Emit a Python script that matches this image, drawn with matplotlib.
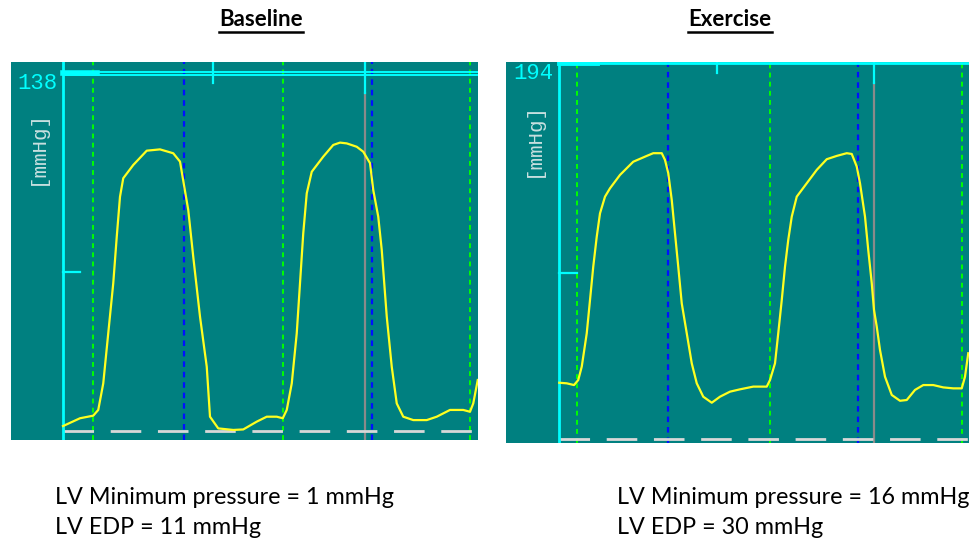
import matplotlib
matplotlib.use("Agg")
import matplotlib.pyplot as plt
from matplotlib.lines import Line2D

plt.rcParams['font.family'] = ['Lato', 'DejaVu Sans']

# ---- data (time in ms, pressure in mmHg) ----
base_t = [0, 68, 121, 141, 161, 181, 201, 215, 228, 241, 281, 335, 388, 441, 468,
          485, 501, 521, 548, 575, 588, 621, 681, 721, 775, 815, 855, 879, 895, 915,
          935, 948, 961, 975, 995, 1041, 1081, 1108, 1135, 1175, 1201, 1228, 1241,
          1261, 1275, 1295, 1315, 1335, 1361, 1401, 1455, 1495, 1548, 1601, 1628,
          1641, 1659]
base_p = [1.9, 4.9, 5.9, 8.1, 18.3, 37.6, 56.8, 74.7, 90.1, 97.2, 102.3, 107.8, 108.3,
          106.8, 103.6, 94.0, 85.0, 67.0, 44.0, 24.7, 5.5, 1.0, 0.4, 0.6, 3.6, 5.5, 5.5,
          4.9, 8.1, 18.3, 37.6, 56.8, 76.0, 91.4, 99.7, 105.5, 110.0, 110.9, 110.6,
          109.3, 107.4, 103.0, 92.7, 82.4, 69.6, 44.0, 24.7, 10.6, 5.5, 4.2, 4.2, 5.5,
          8.1, 8.1, 7.4, 10.6, 19.6]

ex_t = [1, 31, 60, 77, 91, 111, 124, 137, 151, 164, 184, 204, 244, 297, 351, 377, 411,
        424, 437, 451, 464, 477, 491, 511, 531, 551, 577, 611, 644, 684, 724, 777, 831,
        844, 864, 877, 891, 904, 917, 931, 951, 991, 1031, 1071, 1111, 1151, 1171, 1191,
        1204, 1224, 1237, 1251, 1260, 1271, 1284, 1304, 1331, 1364, 1391, 1424, 1457,
        1497, 1537, 1577, 1611, 1624, 1637]
ex_p = [29.0, 28.7, 27.8, 30.4, 37.3, 54.5, 71.6, 88.8, 104.3, 116.3, 124.9, 129.2,
        136.1, 142.9, 145.9, 147.3, 147.3, 143.8, 137.0, 123.2, 106.0, 88.8, 69.9, 54.5,
        39.0, 28.7, 21.8, 18.7, 21.8, 24.4, 25.6, 27.0, 27.0, 30.4, 39.0, 54.5, 71.6,
        88.8, 102.6, 114.6, 124.9, 131.8, 138.7, 144.2, 145.9, 147.3, 146.9, 140.4,
        131.8, 114.6, 97.4, 80.3, 66.5, 57.9, 45.9, 32.1, 22.7, 19.7, 20.1, 25.3, 27.8,
        27.8, 26.6, 26.1, 26.1, 32.1, 44.2]

base_green = [120, 880, 1628]
base_blue = [484, 1236]
ex_green = [72, 844, 1612]
ex_blue = [436, 1196]

titles = ["Baseline", "Exercise"]
scale_max = ["138", "194"]
notes = [["LV Minimum pressure = 1 mmHg", "LV EDP = 11 mmHg"],
         ["LV Minimum pressure = 16 mmHg", "LV EDP = 30 mmHg"]]

W, H = 969, 543
fig = plt.figure(figsize=(W / 100, H / 100), dpi=100)
fig.patch.set_facecolor("white")

TEAL = "#008080"
CYAN = "#00ffff"


def px_rect(x0, y0, x1, y1):
    return [x0 / W, 1 - y1 / H, (x1 - x0) / W, (y1 - y0) / H]


def monitor(ax, t, p, green, blue, gray_t, gray_top, ymax_lbl, xlim, ylim,
            lbl_xy, unit_xy, mid_tick, top_ticks, top_lines):
    ax.set_facecolor(TEAL)
    ax.set_xlim(*xlim)
    ax.set_ylim(*ylim)
    ax.set_xticks([])
    ax.set_yticks([])
    for s in ax.spines.values():
        s.set_visible(False)
    for g in green:
        ax.axvline(g, color="#00ff00", lw=1.4, ls=(0, (2.5, 2.2)), zorder=2)
    for b in blue:
        ax.axvline(b, color="#0010ff", lw=1.6, ls=(0, (2.5, 2.2)), zorder=2)
    ax.plot([gray_t, gray_t], [ylim[0], gray_top], color="#8a8a8a", lw=1.6, zorder=2)
    # zero line
    ax.plot([0, xlim[1]], [0, 0], color="#d8d8d8", lw=2, ls=(0, (11, 6)), zorder=3)
    # y axis line and ticks
    ax.plot([0, 0], [ylim[0], ylim[1]], color=CYAN, lw=2, zorder=4)
    ax.plot([0, mid_tick[1]], [mid_tick[0], mid_tick[0]], color=CYAN, lw=1.6, zorder=4)
    for tt, y0 in top_ticks:
        ax.plot([tt, tt], [y0, ylim[1]], color=CYAN, lw=1.6, zorder=4)
    for yy, lw in top_lines:
        ax.plot([0, xlim[1]], [yy, yy], color=CYAN, lw=lw, zorder=4)
    ax.plot(t, p, color="#ffff20", lw=1.6, zorder=5)
    ax.text(lbl_xy[0], lbl_xy[1], ymax_lbl, color=CYAN, fontsize=16,
            family="Liberation Mono", ha="center", va="center")
    ax.text(unit_xy[0], unit_xy[1], "[mmHg]", color="#c8e0e0", fontsize=15,
            family="Liberation Mono", ha="center", va="center", rotation=90)


ax1 = fig.add_axes(px_rect(11, 62, 478, 440))
monitor(ax1, base_t, base_p, base_green, base_blue, 1208, 130, scale_max[0],
        (-208, 1660), (-3.46, 141.9), (-102, 133.7), (-104, 109.2),
        (61.2, 68), [(600, 133.8), (1208, 130)], [(138.2, 1.4), (136.9, 1.4)])
ax1.plot([0, 136], [137.5, 137.5], color=CYAN, lw=4, zorder=4)

ax2 = fig.add_axes(px_rect(506, 62, 969, 443))
monitor(ax2, ex_t, ex_p, ex_green, ex_blue, 1260, 183.5, scale_max[1],
        (-212, 1640), (-2.06, 194.3), (-104, 188.4), (-104, 154.6),
        (85.6, 72), [(632, 188.7), (1260, 183.5)], [(193.6, 2)])
ax2.plot([0, 150], [193.6, 193.6], color=CYAN, lw=3.5, zorder=4)

# titles with underline
title_x = [261, 730]
fig.canvas.draw()
renderer = fig.canvas.get_renderer()
for tx, ttl in zip(title_x, titles):
    txt = fig.text(tx / W, 1 - 19 / H, ttl, fontsize=16, fontweight="bold",
                   ha="center", va="center", color="black")
    bb = txt.get_window_extent(renderer)
    uy = 1 - 31.5 / H
    fig.add_artist(Line2D([bb.x0 / W, bb.x1 / W], [uy, uy], color="black", lw=1.8))

# notes under panels
note_x = [55, 617]
for nx, lines in zip(note_x, notes):
    for i, line in enumerate(lines):
        fig.text(nx / W, 1 - (498 + 30 * i) / H, line, fontsize=16.8,
                 ha="left", va="center", color="black")

fig.savefig("out.png", dpi=100, facecolor="white")
